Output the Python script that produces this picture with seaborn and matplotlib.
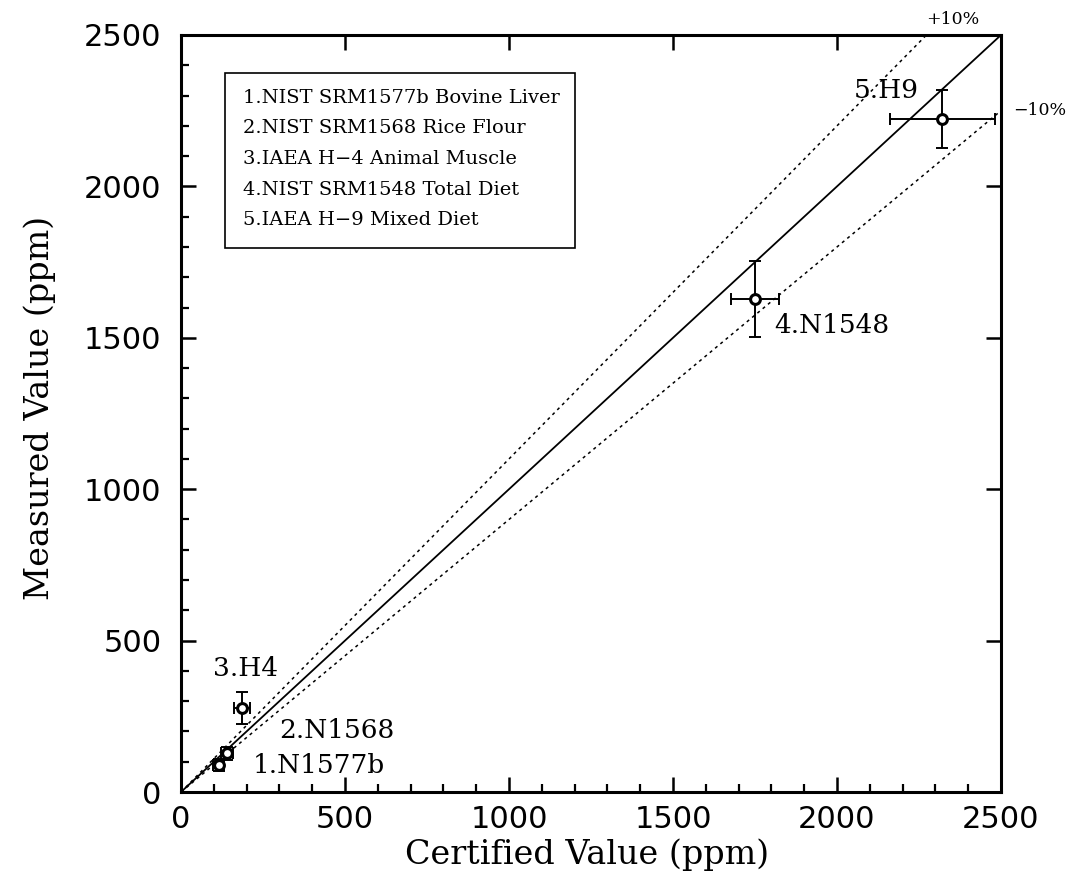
import numpy as np
import pandas as pd
import matplotlib
matplotlib.use("Agg")
import matplotlib.pyplot as plt
from matplotlib.patches import Rectangle
from matplotlib.ticker import MultipleLocator
import seaborn as sns

# values (ppm)
labels = ["1.N1577b", "2.N1568", "3.H4", "4.N1548", "5.H9"]
certified = [115, 140, 187, 1749, 2321]
certified_err = [17, 19, 24, 73, 160]
measured = [90, 128, 278, 1629, 2223]
measured_err = [20, 21, 53, 125, 97]

legend_lines = [
    "1.NIST SRM1577b Bovine Liver",
    "2.NIST SRM1568 Rice Flour",
    "3.IAEA H\u22124 Animal Muscle",
    "4.NIST SRM1548 Total Diet",
    "5.IAEA H\u22129 Mixed Diet",
]

line_x = [0, 2500]
band_ratio = [1.1, 0.9]
band_text = ["+10%", "\u221210%"]

# label offsets from each point (data units)
label_dx = [104, 158, -90, 59, -269]
label_dy = [-4, 74, 129, -89, 95]

df = pd.DataFrame({"certified": certified, "measured": measured, "label": labels})

sns.set_style("ticks")
serif = ["DejaVu Serif"]
plt.rcParams["font.family"] = ["DejaVu Sans"]
plt.rcParams.update({
    "text.color": "black",
    "axes.labelcolor": "black",
    "axes.edgecolor": "black",
    "xtick.color": "black",
    "ytick.color": "black",
})

fig = plt.figure(figsize=(10.69, 8.77), dpi=100)
ax = fig.add_axes([181 / 1069, 1 - 792 / 877, 820 / 1069, 757 / 877])

# 1:1 line and +/-10% lines
sns.lineplot(x=line_x, y=line_x, ax=ax, color="black", linewidth=1.3)
for r in band_ratio:
    ys = [v * r for v in line_x]
    sns.lineplot(x=line_x, y=ys, ax=ax, color="black", linewidth=1.1,
                 linestyle=(0, (2, 2.5)))

ax.errorbar(certified, measured, xerr=certified_err, yerr=measured_err,
            fmt="none", ecolor="black", elinewidth=1.4, capsize=4.5,
            capthick=1.4, zorder=3)
sns.scatterplot(data=df, x="certified", y="measured", ax=ax, marker="o",
                s=50, facecolor="white", edgecolor="black", linewidth=2.2,
                zorder=4)

for lab, x, y, dx, dy in zip(labels, certified, measured, label_dx, label_dy):
    ax.text(x + dx, y + dy, lab, fontsize=19, family=serif,
            ha="left", va="center")

# +/-10% tags at the frame edge
ax.annotate(band_text[0], xy=(2500 / band_ratio[0], 2500), xytext=(0, 5),
            textcoords="offset points", fontsize=12.5, family=serif,
            ha="left", va="bottom", annotation_clip=False)
ax.annotate(band_text[1], xy=(2500, 2500 * band_ratio[1]), xytext=(9, 0),
            textcoords="offset points", fontsize=12.5, family=serif,
            ha="left", va="center", annotation_clip=False)

# sample legend box
ax.add_patch(Rectangle((0.0537, 0.7186), 0.4268, 0.2314, transform=ax.transAxes,
                       fill=False, edgecolor="black", linewidth=1.2, zorder=5))
for i, txt in enumerate(legend_lines):
    ax.text(0.0756, 0.9168 - i * 0.0403, txt, transform=ax.transAxes,
            fontsize=14, family=serif, ha="left", va="center")

ax.set_xlim(0, 2500)
ax.set_ylim(0, 2500)
ax.xaxis.set_major_locator(MultipleLocator(500))
ax.yaxis.set_major_locator(MultipleLocator(500))
ax.xaxis.set_minor_locator(MultipleLocator(100))
ax.yaxis.set_minor_locator(MultipleLocator(100))
ax.tick_params(which="major", direction="in", length=11, width=1.8,
               top=True, right=True, labelsize=22)
ax.tick_params(which="minor", direction="in", length=6, width=1.6,
               top=False, right=False)
ax.tick_params(axis="x", which="major", pad=9)
ax.tick_params(axis="y", which="major", pad=14)
for s in ax.spines.values():
    s.set_linewidth(2.2)
    s.set_visible(True)

ax.set_xlabel("Certified Value (ppm)", fontsize=24, family=serif)
ax.set_ylabel("Measured Value (ppm)", fontsize=24, family=serif)
ax.xaxis.set_label_coords(0.495, -0.061)
ax.yaxis.set_label_coords(-0.152, 0.507)

fig.savefig("out.png", dpi=100)
